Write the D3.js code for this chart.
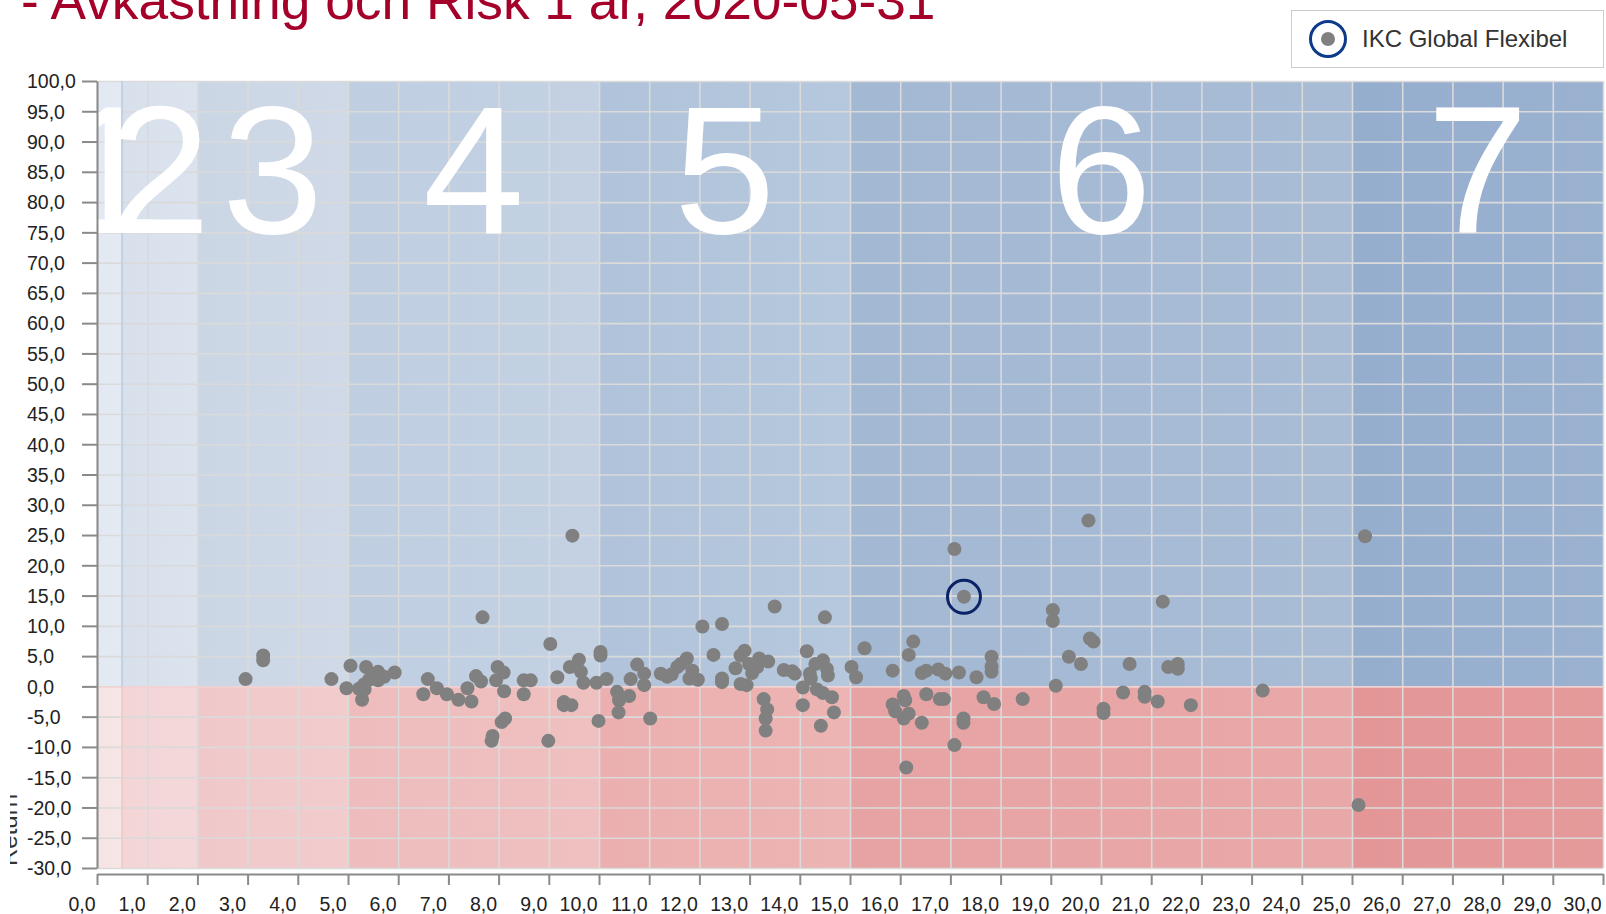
<!DOCTYPE html>
<html>
<head>
<meta charset="utf-8">
<script src="https://cdnjs.cloudflare.com/ajax/libs/d3/7.8.5/d3.min.js"></script>
<style>
  body { margin: 0; background: #fff; overflow: hidden; }
  svg { display: block; font-family: "Liberation Sans", Arial, sans-serif; }
</style>
</head>
<body>
<div id="scatter"></div>
<script>
const svgWidth = 1606
const svgHeight = 914

let margin = { top: 81, right: 3, bottom: 46, left: 97 }
let width = svgWidth - margin.left - margin.right
let height = svgHeight - margin.top - margin.bottom

// risk classes 1-7 by volatility (%)
const bandEdges = [0, 0.5, 2, 5, 10, 15, 25, 30]
const bandLabels = ["1", "2", "3", "4", "5", "6", "7"]

const xTicks = d3.range(0, 31, 1)
const yTicks = d3.range(-30, 101, 5)

// risk (x) and 1y return (y) for every fund
const riskPct = [
  2.96, 3.31, 3.31, 4.67, 5.05, 4.97, 5.36, 5.6, 5.72, 5.6, 5.42, 5.32, 5.22, 5.33, 5.28, 5.5, 5.93,
  6.5, 6.59, 6.77, 6.97, 7.2, 7.38, 7.46, 7.55, 7.65, 7.68, 7.98, 8.1, 7.95, 8.11, 8.13, 8.06, 7.88, 7.86,
  8.5, 8.64, 8.5, 9.03, 9.17, 9.47, 8.99, 9.3, 9.45, 9.3, 9.42, 9.6, 9.64, 9.69, 9.95,
  10.03, 10.03, 10.15, 9.99, 10.36, 10.4, 10.39, 10.6, 10.63, 10.76, 10.9, 10.9,
  11.02, 11.23, 11.36, 11.56, 11.63, 11.75, 11.86, 11.8, 11.97, 11.45,
  12.06, 12.45, 12.28, 12.45, 12.45, 12.72, 12.82, 12.9, 12.82, 12.94, 12.99,
  13.05, 13.19, 13.15, 13.37, 13.5, 13.28, 13.35, 13.32, 13.32, 13.68, 13.85, 13.9,
  14.06, 14.06, 14.14, 14.2, 14.22, 14.31, 14.34, 14.46, 14.5, 14.54, 14.56, 14.46, 14.64, 14.68, 14.42,
  15.03, 15.12, 15.29, 15.85, 16.17, 16.26, 15.85, 15.9, 16.07, 16.1, 16.07, 16.17, 16.12,
  16.43, 16.52, 16.52, 16.43, 16.76, 16.9, 16.79, 16.87,
  17.08, 17.17, 17.08, 17.26, 17.26, 17.52, 17.66, 17.82, 17.82, 17.82, 17.87, 18.44,
  19.04, 19.04, 19.1, 19.75, 19.78, 19.85, 19.36, 19.6,
  20.05, 20.05, 20.44, 20.57, 20.87, 20.87, 21.13, 21.23, 21.34, 21.53, 21.53, 21.79,
  23.22, 25.26, 25.13
]
const returnPct = [
  1.2, 5.1, 4.3, 1.2, 3.4, -0.3, 3.2, 2.4, 1.6, 1.0, 1.1, 0.3, -0.4, -0.5, -2.2, 1.6, 2.3,
  -1.3, 1.2, -0.3, -1.3, -2.2, -0.3, -2.5, 1.7, 0.8, 11.4, 3.2, 2.3, 1.0, -0.8, -5.3, -5.9, -8.2, -9.0,
  1.0, 1.0, -1.3, 7.0, 1.5, 24.9, -9.0, -2.6, -3.1, -3.1, 3.2, 4.4, 2.4, 0.6, 0.6,
  5.7, 5.1, 1.2, -5.7, -0.9, -2.3, -4.3, -1.6, 1.2, 3.6, 2.1, 0.2,
  -5.3, 2.1, 1.6, 3.2, 3.7, 4.6, 2.6, 1.3, 1.1, 2.0,
  9.9, 10.3, 5.2, 1.3, 0.7, 3.0, 5.1, 5.9, 0.4, 0.2, 3.7,
  2.2, 4.6, 3.2, 4.1, 13.2, -2.1, -3.8, -5.3, -7.3, 2.7, 2.5, 2.1,
  -0.2, -3.1, 5.8, 2.1, 1.3, 3.7, -0.5, 4.3, 11.4, 2.9, 1.8, -1.1, -1.8, -4.3, -6.5,
  3.2, 1.5, 6.3, 2.6, 5.2, 7.4, -3.0, -4.1, -1.6, -2.3, -5.3, -4.5, -13.4,
  2.2, 2.6, -1.3, -6.0, 2.8, 2.1, -2.1, -2.1,
  22.7, 2.3, -9.7, -5.3, -6.0, 1.5, -1.8, 4.9, 3.3, 2.4, -2.9, -2.1,
  12.6, 10.8, 0.1, 27.4, 7.9, 7.4, 4.9, 3.7,
  -3.7, -4.4, -1.0, 3.7, -0.9, -1.7, -2.5, 14.0, 3.2, 3.7, 2.9, -3.1,
  -0.7, 24.8, -19.6
]

const fundName = "IKC Global Flexibel"
const fundRisk = 17.27
const fundReturn = 14.8

// band shades, left -> right of each band
const blueShades = [
  ["#e3e9f2", "#e4eaf3"], ["#d8e0ec", "#dbe3ee"], ["#cbd6e5", "#cfd9e8"], ["#bfcee1", "#c3d1e3"],
  ["#b0c3da", "#b6c8dd"], ["#a3b8d3", "#a8bcd6"], ["#96aece", "#9ab1d0"]
]
const redShades = [
  ["#f6e4e4", "#f7e6e6"], ["#f3d5d6", "#f4d8d9"], ["#f0c8c9", "#f2cccd"], ["#eebcbc", "#efc0c0"],
  ["#ebafaf", "#edb4b4"], ["#e7a3a3", "#e9a8a8"], ["#e49697", "#e59a9a"]
]

const fmt = d3.formatLocale({ decimal: ",", thousands: " ", grouping: [3], currency: ["", ""], minus: "-" }).format(".1f")

let svg = d3
  .select("#scatter")
  .append("svg")
  .attr("width", svgWidth)
  .attr("height", svgHeight)

let defs = svg.append("defs")

let chartGroup = svg
  .append("g")
  .attr("transform", `translate(${margin.left}, ${margin.top})`)

let xLinearScale = d3.scaleLinear().domain([0, 30]).range([0, width])
let yLinearScale = d3.scaleLinear().domain([-30, 100]).range([height, 0])

// gradients for the bands
function addGradient(id, stops) {
  let g = defs.append("linearGradient").attr("id", id)
    .attr("x1", 0).attr("x2", 1).attr("y1", 0).attr("y2", 0)
  g.append("stop").attr("offset", "0%").attr("stop-color", stops[0])
  g.append("stop").attr("offset", "100%").attr("stop-color", stops[1])
}
bandLabels.forEach((b, i) => {
  addGradient("blue" + i, blueShades[i])
  addGradient("red" + i, redShades[i])
})

let bands = chartGroup.append("g").attr("class", "bands")
bandLabels.forEach((b, i) => {
  let x0 = xLinearScale(bandEdges[i])
  let x1 = xLinearScale(bandEdges[i + 1])
  bands.append("rect")
    .attr("x", x0).attr("width", x1 - x0)
    .attr("y", yLinearScale(100)).attr("height", yLinearScale(0) - yLinearScale(100))
    .attr("fill", `url(#blue${i})`)
  bands.append("rect")
    .attr("x", x0).attr("width", x1 - x0)
    .attr("y", yLinearScale(0)).attr("height", yLinearScale(-30) - yLinearScale(0))
    .attr("fill", `url(#red${i})`)
})

// grid lines
let xGrid = chartGroup.append("g")
  .attr("transform", `translate(0, ${height})`)
  .call(d3.axisBottom(xLinearScale).tickValues(xTicks).tickSize(-height).tickFormat(""))
xGrid.select(".domain").remove()
xGrid.selectAll("line").attr("stroke", "#dadada").attr("stroke-width", 1.6)

let yGrid = chartGroup.append("g")
  .call(d3.axisLeft(yLinearScale).tickValues(yTicks).tickSize(-width).tickFormat(""))
yGrid.select(".domain").remove()
yGrid.selectAll("line")
  .attr("stroke", d => d === 0 ? "#f0d2d2" : "#dadada")
  .attr("stroke-width", 1.6)

// edge between class 1 and 2
chartGroup.append("line")
  .attr("x1", xLinearScale(0.5)).attr("x2", xLinearScale(0.5))
  .attr("y1", yLinearScale(100)).attr("y2", yLinearScale(0))
  .attr("stroke", "#c4d1e3").attr("stroke-width", 2)
chartGroup.append("line")
  .attr("x1", xLinearScale(0.5)).attr("x2", xLinearScale(0.5))
  .attr("y1", yLinearScale(0)).attr("y2", yLinearScale(-30))
  .attr("stroke", "#efcbcc").attr("stroke-width", 2)

// big risk class numbers
chartGroup.append("g")
  .selectAll("text")
  .data(bandLabels)
  .enter()
  .append("text")
  .attr("x", (d, i) => xLinearScale((bandEdges[i] + bandEdges[i + 1]) / 2))
  .attr("y", 152)
  .attr("text-anchor", "middle")
  .attr("font-size", 182)
  .attr("fill", "#ffffff")
  .text(d => d)

// axes
let xAxis = chartGroup.append("g")
  .attr("transform", `translate(0, ${height + 6})`)
  .call(d3.axisBottom(xLinearScale).tickValues(xTicks).tickSize(11).tickSizeOuter(0).tickFormat(fmt))
xAxis.attr("font-size", 19.5).attr("font-family", null)
xAxis.select(".domain").attr("stroke", "#8a8a8a").attr("stroke-width", 2)
xAxis.selectAll("line").attr("stroke", "#8a8a8a").attr("stroke-width", 2)
xAxis.selectAll("text")
  .attr("text-anchor", "end")
  .attr("x", -2)
  .attr("y", 37)
  .attr("dy", null)
  .attr("fill", "#222")

let yAxis = chartGroup.append("g")
  .call(d3.axisLeft(yLinearScale).tickValues(yTicks).tickSize(15).tickSizeOuter(0).tickFormat(fmt))
yAxis.attr("font-size", 19.5).attr("font-family", null)
yAxis.select(".domain").attr("stroke", "#8a8a8a").attr("stroke-width", 2)
yAxis.selectAll("line").attr("stroke", "#8a8a8a").attr("stroke-width", 2)
yAxis.selectAll("text")
  .attr("text-anchor", "start")
  .attr("x", 27 - margin.left)
  .attr("dy", "0.35em")
  .attr("fill", "#222")

// y axis title, mostly cut off at the left edge
defs.append("clipPath").attr("id", "titleClip")
  .append("rect").attr("x", 10).attr("y", 700).attr("width", 12).attr("height", 200)
svg.append("g")
  .attr("clip-path", "url(#titleClip)")
  .append("text")
  .attr("transform", "translate(17, 830) rotate(-90)")
  .attr("text-anchor", "middle")
  .attr("font-size", 24)
  .attr("fill", "#333")
  .text("Return")

// funds
let points = riskPct.map((r, i) => ({ risk: r, ret: returnPct[i] }))
chartGroup.append("g")
  .selectAll("circle")
  .data(points)
  .enter()
  .append("circle")
  .attr("cx", d => xLinearScale(d.risk))
  .attr("cy", d => yLinearScale(d.ret))
  .attr("r", 7)
  .attr("fill", "#808080")

// highlighted fund
chartGroup.append("circle")
  .attr("cx", xLinearScale(fundRisk))
  .attr("cy", yLinearScale(fundReturn))
  .attr("r", 7)
  .attr("fill", "#808080")
chartGroup.append("circle")
  .attr("cx", xLinearScale(fundRisk))
  .attr("cy", yLinearScale(fundReturn))
  .attr("r", 16.5)
  .attr("fill", "none")
  .attr("stroke", "#0b2266")
  .attr("stroke-width", 3)

// legend
let legend = svg.append("g")
legend.append("rect")
  .attr("x", 1291.5).attr("y", 10.5).attr("width", 312).attr("height", 57)
  .attr("fill", "#fff").attr("stroke", "#cccccc")
legend.append("circle")
  .attr("cx", 1328).attr("cy", 39).attr("r", 17.5)
  .attr("fill", "none").attr("stroke", "#0d3b8a").attr("stroke-width", 3)
legend.append("circle")
  .attr("cx", 1328).attr("cy", 39).attr("r", 7)
  .attr("fill", "#808080")
legend.append("text")
  .attr("x", 1362).attr("y", 47)
  .attr("font-size", 24)
  .attr("fill", "#333")
  .text(fundName)

// title, top cut off
svg.append("text")
  .attr("x", 21).attr("y", 18.5)
  .attr("font-size", 53.3)
  .attr("fill", "#a4002a")
  .text("- Avkastning och Risk 1 år, 2020-05-31")
</script>
</body>
</html>
